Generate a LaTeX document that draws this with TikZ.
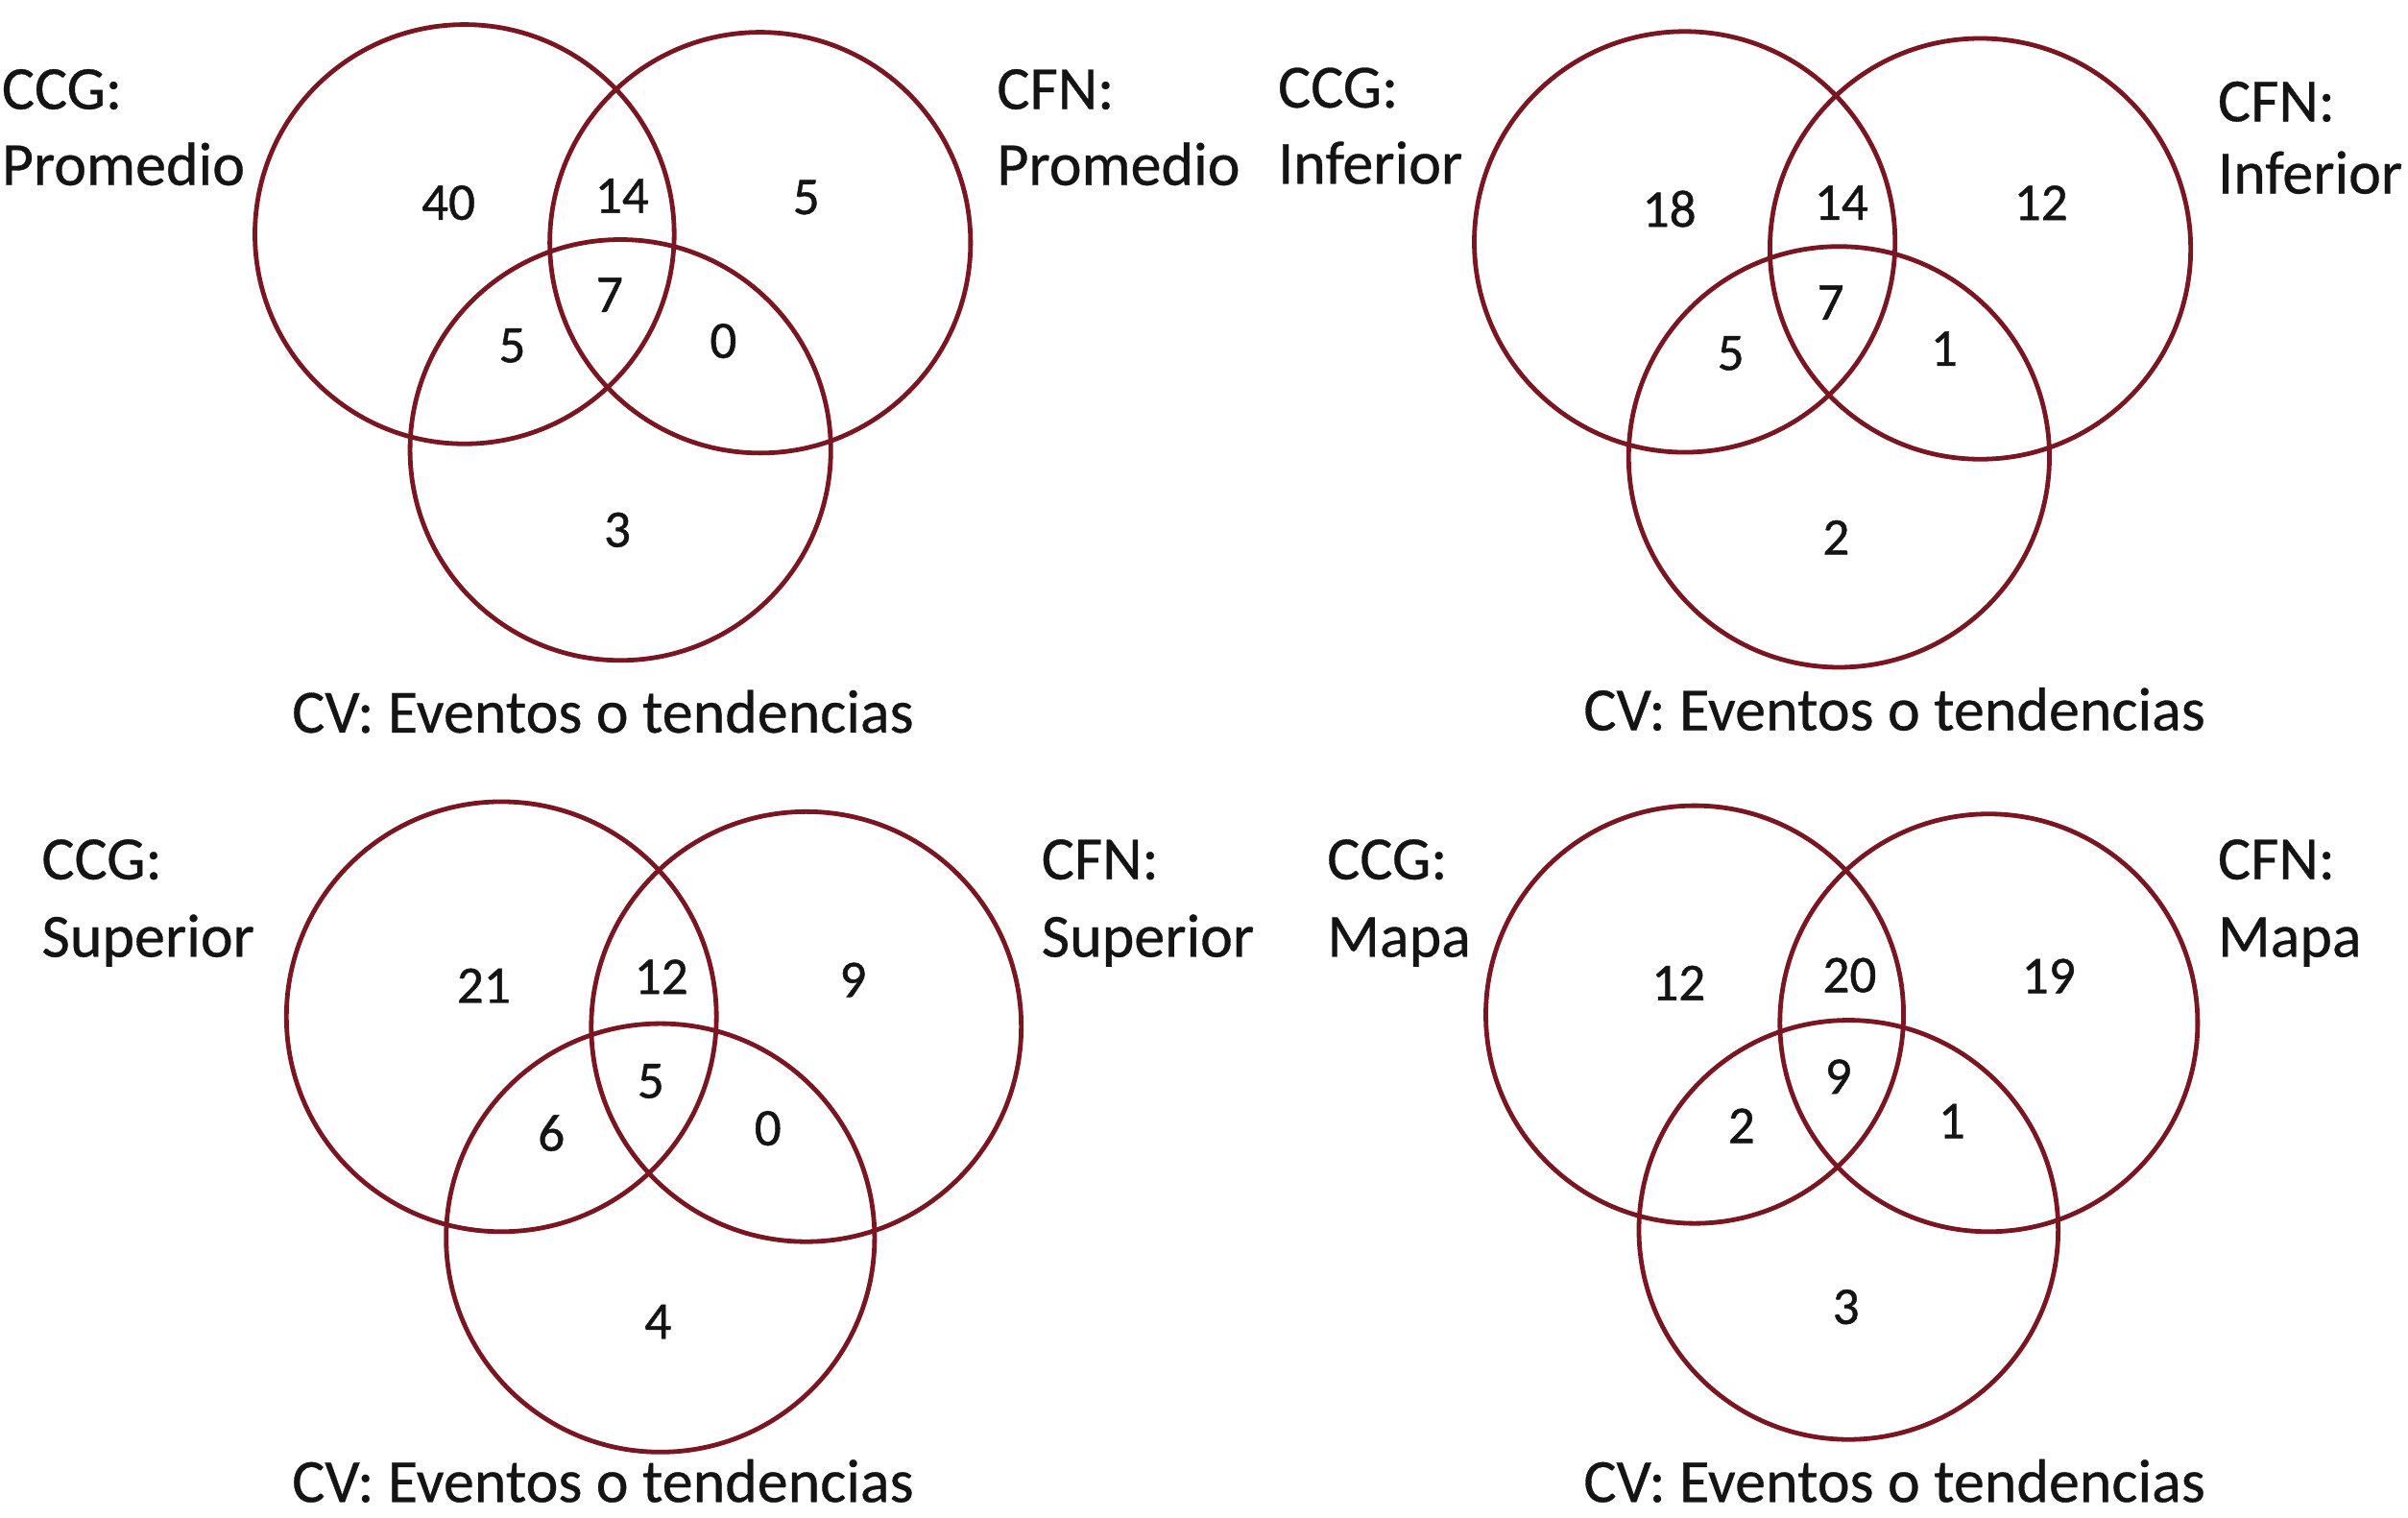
\documentclass[tikz,border=0pt]{standalone}
\usepackage{fontspec}
\setmainfont{Carlito}
\newfontface\lblfont{Carlito}[FakeBold=0.5]
\newfontface\numfont{Carlito}[FakeBold=0.8]
\definecolor{vred}{RGB}{122,22,34}
\definecolor{txt}{RGB}{20,20,20}
\begin{document}
\begin{tikzpicture}[x=1pt,y=-1pt,
  vcirc/.style={circle, draw=vred, line width=3pt, inner sep=0pt, outer sep=0pt},
  lbl/.style={anchor=base west, inner sep=0pt, text=txt, font=\lblfont\fontsize{40}{48}\selectfont},
  num/.style={inner sep=0pt, text=txt, font=\numfont\fontsize{34.5}{40}\selectfont}]
\useasboundingbox[fill=white] (0,0) rectangle (1568,988);

% ---------- Top-left: Promedio ----------
\node[vcirc, minimum size=273pt] (tlA) at (302.5,152.5) {};
\node[vcirc, minimum size=274pt] (tlB) at (495,158) {};
\node[vcirc, minimum size=274pt] (tlC) at (404,293) {};
\node[lbl] (tlL1) at (1,71) {CCG:};
\node[lbl] (tlL2) at (1,120.5) {Promedio};
\node[lbl] (tlR1) at (649,71) {CFN:};
\node[lbl] (tlR2) at (649,120.5) {Promedio};
\node[lbl] (tlV) at (190,477) {CV: Eventos o tendencias};
\node[num] (tlnA) at (292,132) {40};
\node[num] (tlnAB) at (405,127.5) {14};
\node[num] (tlnB) at (525,128.5) {5};
\node[num] (tlnABC) at (397,192) {7};
\node[num] (tlnAC) at (333.5,225) {5};
\node[num] (tlnBC) at (471,222) {0};
\node[num] (tlnC) at (402,345) {3};

% ---------- Top-right: Inferior ----------
\node[vcirc, minimum size=274pt] (trA) at (1097,157.5) {};
\node[vcirc, minimum size=274pt] (trB) at (1289.5,162) {};
\node[vcirc, minimum size=274pt] (trC) at (1197.5,297.5) {};
\node[lbl] (trL1) at (832,70) {CCG:};
\node[lbl] (trL2) at (832,119.6) {Inferior};
\node[lbl] (trR1) at (1444,79) {CFN:};
\node[lbl] (trR2) at (1444,126) {Inferior};
\node[lbl] (trV) at (1031,475.5) {CV: Eventos o tendencias};
\node[num] (trnA) at (1087,136) {18};
\node[num] (trnAB) at (1199,132) {14};
\node[num] (trnB) at (1329,132) {12};
\node[num] (trnABC) at (1192,197) {7};
\node[num] (trnAC) at (1127,230) {5};
\node[num] (trnBC) at (1266,227) {1};
\node[num] (trnC) at (1195.6,350) {2};

% ---------- Bottom-left: Superior ----------
\node[vcirc, minimum size=280pt] (blA) at (326.5,662) {};
\node[vcirc, minimum size=280pt] (blB) at (525,668.5) {};
\node[vcirc, minimum size=279pt] (blC) at (430,806) {};
\node[lbl] (blL1) at (27,572.5) {CCG:};
\node[lbl] (blL2) at (27,623) {Superior};
\node[lbl] (blR1) at (678,572.5) {CFN:};
\node[lbl] (blR2) at (678,623) {Superior};
\node[lbl] (blV) at (190,978) {CV: Eventos o tendencias};
\node[num] (blnA) at (315,641.8) {21};
\node[num] (blnAB) at (430.6,636) {12};
\node[num] (blnB) at (555.4,638) {9};
\node[num] (blnABC) at (423.8,704) {5};
\node[num] (blnAC) at (359,737.8) {6};
\node[num] (blnBC) at (500,734.7) {0};
\node[num] (blnC) at (428.4,860.6) {4};

% ---------- Bottom-right: Mapa ----------
\node[vcirc, minimum size=272pt] (brA) at (1103.5,660.6) {};
\node[vcirc, minimum size=272pt] (brB) at (1295,666) {};
\node[vcirc, minimum size=273pt] (brC) at (1203.7,800.8) {};
\node[lbl] (brL1) at (864,572.5) {CCG:};
\node[lbl] (brL2) at (864,623) {Mapa};
\node[lbl] (brR1) at (1444,572.5) {CFN:};
\node[lbl] (brR2) at (1444,623) {Mapa};
\node[lbl] (brV) at (1031,978) {CV: Eventos o tendencias};
\node[num] (brnA) at (1093,640) {12};
\node[num] (brnAB) at (1204.4,635) {20};
\node[num] (brnB) at (1334,635.5) {19};
\node[num] (brnABC) at (1197,701) {9};
\node[num] (brnAC) at (1134,733) {2};
\node[num] (brnBC) at (1271,730) {1};
\node[num] (brnC) at (1202,851) {3};
\end{tikzpicture}
\end{document}
